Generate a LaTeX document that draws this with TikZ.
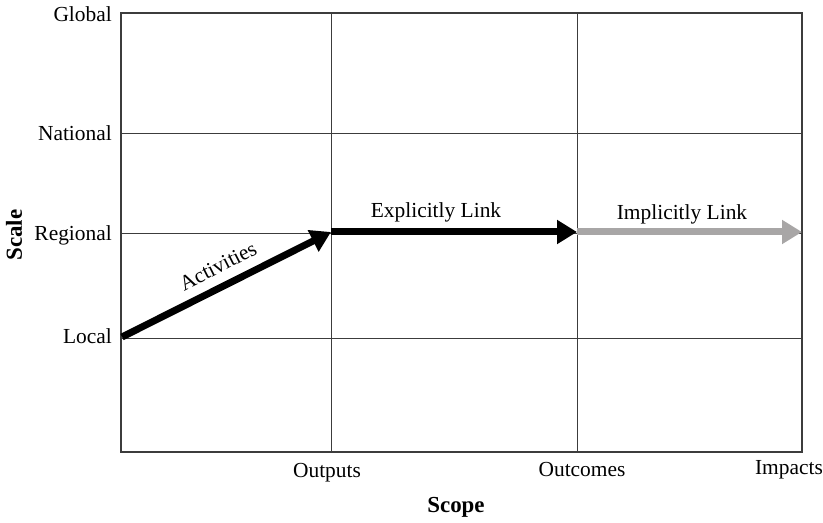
\documentclass[tikz,border=0pt]{standalone}
\usepackage{fontspec}
\setmainfont{Liberation Serif}
\usepackage{tikz}
\usetikzlibrary{arrows.meta,positioning}
\definecolor{noir}{RGB}{0,0,0}
\definecolor{gris}{RGB}{168,166,166}
\definecolor{trait}{RGB}{60,60,60}

\begin{document}
\begin{tikzpicture}[x=1bp,y=-1bp,font=\fontsize{21.5}{24}\selectfont,
	axelab/.style={anchor=east,inner sep=0pt},
	fleche/.style={line width=7bp,-{Triangle[length=20bp,width=23bp]}},
	grille/.style={trait,line width=0.8bp}]
					\useasboundingbox (0,0) rectangle (823,523);
					\draw[grille] (121,133)--(802,133);
					\draw[grille] (121,233)--(802,233);
					\draw[grille] (121,338)--(802,338);
					\draw[grille] (331,13)--(331,452);
					\draw[grille] (577,13)--(577,452);
					\draw[trait,line width=1.4bp] (121,13) rectangle (802,452);
					
					\node[axelab] (glob) at (112,14) {Global};
					\node[axelab] (nat) at (112,133) {National};
					\node[axelab] (reg) at (112,235) {Regional};
					\node[axelab] (loc) at (112,336) {Local};
					\node[font=\fontsize{23}{26}\selectfont\bfseries,rotate=90] (scal) at (14,235) {Scale};
					
					\node (outp) at (327,473) {Outputs};
					\node (outc) at (582,470) {Outcomes};
					\node (impa) at (789,470) {Impacts};
					\node[font=\fontsize{23}{26}\selectfont\bfseries] (scop) at (456,507) {Scope};
					
					\coordinate (depart) at (122,337);
					\coordinate (sortie) at (331,232);
					\coordinate (effet) at (577,232);
					\coordinate (impact) at (802,232);
					\draw[fleche,noir] (depart)--(sortie);
					\draw[fleche,noir] (sortie)--(effet);
					\draw[fleche,gris] (effet)--(impact);
					
					\node[rotate=27,inner sep=1pt] (acti) at (218,266) {Activities};
					\node (expl) at (436,212) {Explicitly Link};
					\node (impl) at (682,214) {Implicitly Link};
				\end{tikzpicture}
\end{document}
